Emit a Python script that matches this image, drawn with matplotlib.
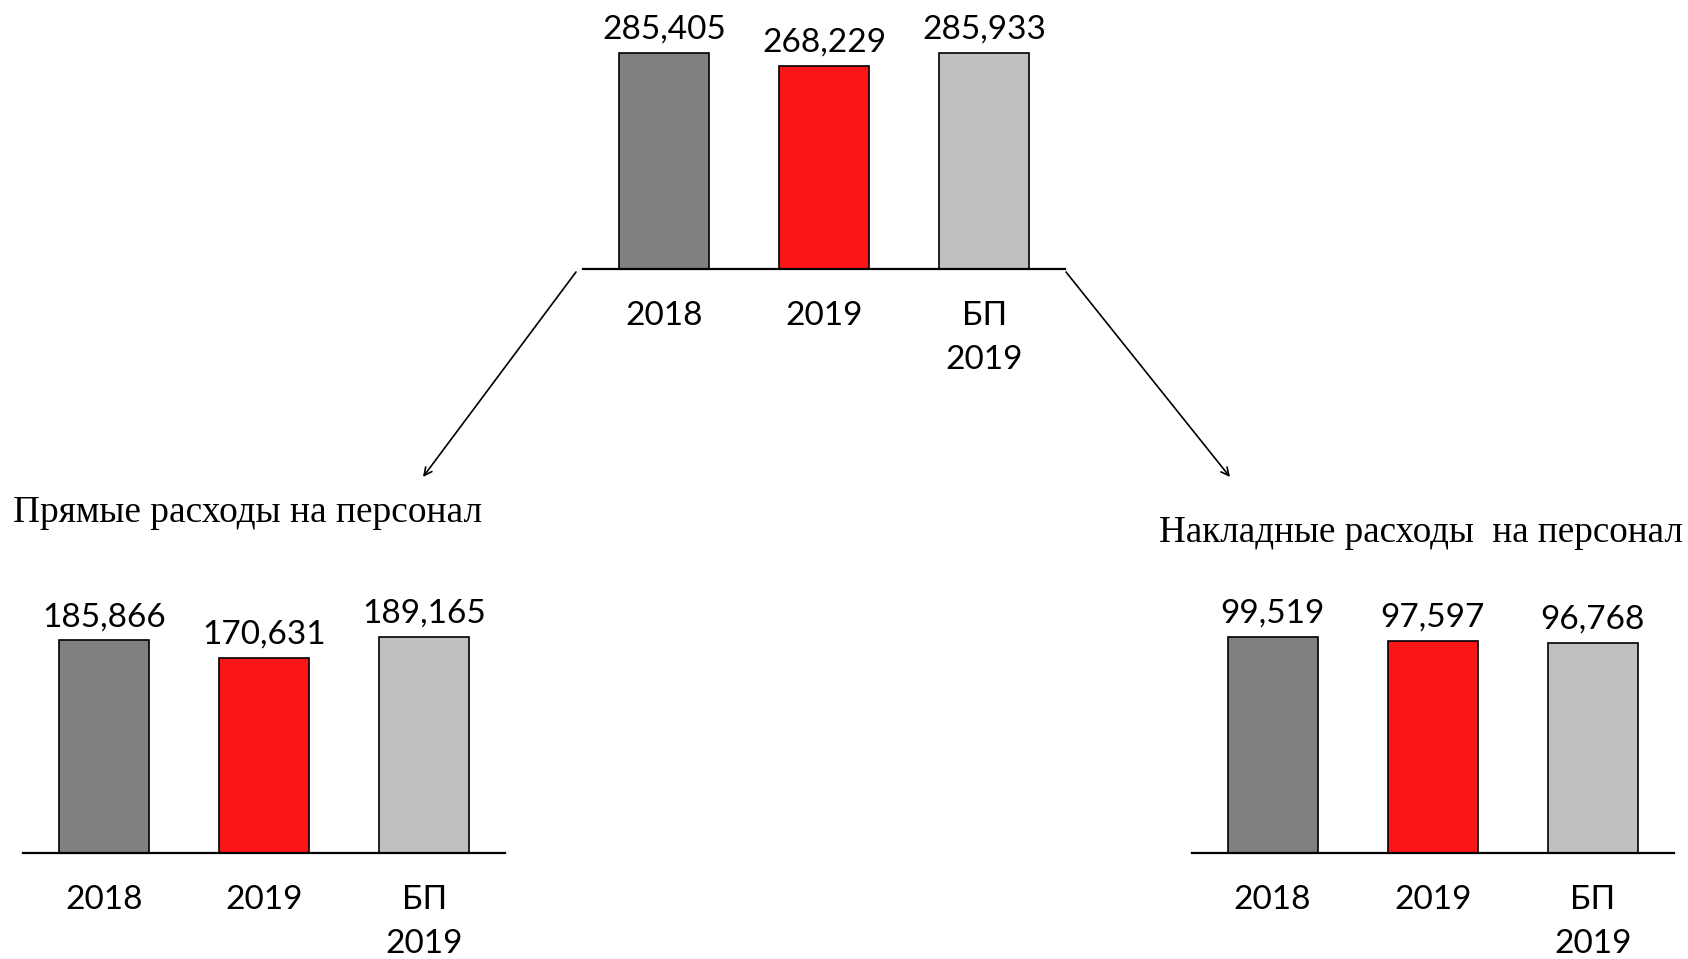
import matplotlib
matplotlib.use("Agg")
import matplotlib.pyplot as plt

# данные
categories = ["2018", "2019", "БП\n2019"]
total_vals = [285405, 268229, 285933]
direct_vals = [185866, 170631, 189165]
overhead_vals = [99519, 97597, 96768]
colors = ["#808080", "#fa1616", "#c0c0c0"]

title_direct = "Прямые расходы на персонал"
title_overhead = "Накладные расходы  на персонал"

W, H = 1688, 959
plt.rcParams['font.family'] = ['Lato', 'Open Sans', 'DejaVu Sans']

fig = plt.figure(figsize=(W / 100, H / 100), dpi=100)


def px_axes(left, base_y, width=482, height=260):
    """оси по пиксельным координатам (base_y отсчитан сверху)"""
    return fig.add_axes([left / W, (H - base_y) / H, width / W, height / H])


def draw_bars(ax, vals):
    bars = ax.bar(range(len(vals)), vals, width=0.5625, color=colors,
                  edgecolor="black", linewidth=1.2)
    ax.bar_label(bars, labels=[f"{v:,}" for v in vals], padding=6,
                 fontsize=24)
    ax.set_xlim(-0.505, 2.505)
    ax.set_ylim(0, max(vals) * 1.2)
    ax.set_xticks(range(len(vals)))
    ax.set_xticklabels(categories, fontsize=24, linespacing=1.57)
    ax.tick_params(axis="x", length=0, pad=23)
    ax.set_yticks([])
    for s in ["top", "left", "right"]:
        ax.spines[s].set_visible(False)
    ax.spines["bottom"].set_linewidth(1.6)
    ax.patch.set_alpha(0)


ax_top = px_axes(583, 269.3)
draw_bars(ax_top, total_vals)

ax_left = px_axes(23.3, 853.3)
draw_bars(ax_left, direct_vals)

ax_right = px_axes(1191.7, 853.3)
draw_bars(ax_right, overhead_vals)

# заголовки
fig.text(13 / W, 1 - 513 / H, title_direct, ha="left", va="center",
         fontsize=26.9, family="Liberation Serif")
fig.text(1683 / W, 1 - 533 / H, title_overhead, ha="right", va="center",
         fontsize=26.7, family="Liberation Serif")

# стрелки
arrow_kw = dict(arrowstyle="->", color="black", lw=1.2, mutation_scale=14,
                shrinkA=0, shrinkB=0)
fig.add_artist(matplotlib.patches.FancyArrowPatch(
    (576 / W, 1 - 272 / H), (423 / W, 1 - 477 / H),
    transform=fig.transFigure, **arrow_kw))
fig.add_artist(matplotlib.patches.FancyArrowPatch(
    (1066 / W, 1 - 272 / H), (1230 / W, 1 - 477 / H),
    transform=fig.transFigure, **arrow_kw))

fig.savefig("out.png", dpi=100)
